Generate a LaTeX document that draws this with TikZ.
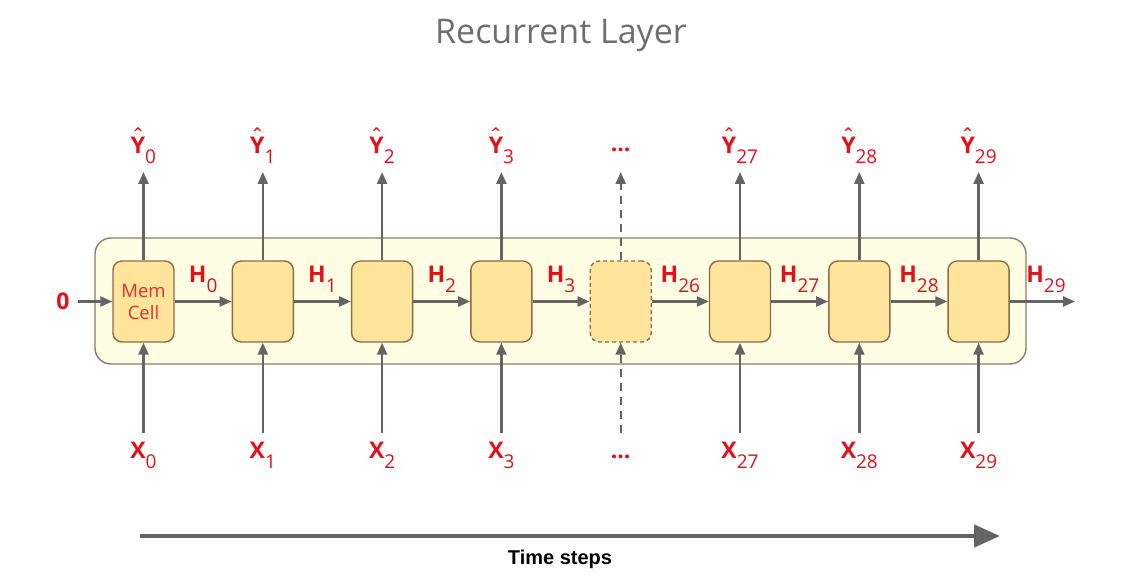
\documentclass[tikz,border=0pt]{standalone}
\usepackage{fontspec}
\setmainfont{Open Sans}
\newfontfamily\timefont{Liberation Sans}
\usetikzlibrary{arrows.meta,calc}
\definecolor{lblred}{HTML}{E3101B}
\definecolor{memred}{HTML}{E2302A}
\definecolor{arrgray}{HTML}{646464}
\definecolor{cellfill}{HTML}{FFE49C}
\definecolor{cellbrd}{HTML}{8C6B48}
\definecolor{layerfill}{HTML}{FFFDE3}
\definecolor{layerbrd}{HTML}{8E7D6C}
\definecolor{titlegray}{HTML}{6E6E6E}
\newcommand{\rlab}[2]{{\bfseries #1}\raisebox{-10pt}{\fontsize{19}{19}\selectfont #2}}
\newcommand{\hatY}{\setbox0\hbox{\bfseries Y}\rlap{\hbox to\wd0{\hss\raisebox{8.5pt}{\mdseries ˆ}\hss}}\box0}
\begin{document}
\begin{tikzpicture}[x=1pt,y=-1pt,
  lab/.style={text=lblred, font=\fontsize{23}{23}\selectfont, anchor=base, inner sep=0pt},
  cellbox/.style={draw=cellbrd, fill=cellfill, line width=1.4pt, rounded corners=9pt,
    minimum width=61pt, minimum height=81pt, inner sep=0pt},
  arr/.style={draw=arrgray, line width=2.4pt, -{Triangle[length=12pt,width=10pt]}},
  dasharr/.style={arr, dash pattern=on 8pt off 6pt},
  timearr/.style={draw=arrgray, line width=4.5pt, -{Triangle[length=26pt,width=22pt]}},
]
\useasboundingbox (0,0) rectangle (1122,577);

% title
\node[text=titlegray, font=\fontsize{34}{34}\selectfont, anchor=base, inner sep=0pt] (title) at (561,44) {Recurrent Layer};

% layer box
\node[draw=layerbrd, fill=layerfill, line width=1.4pt, rounded corners=16pt,
  minimum width=931pt, minimum height=126pt, inner sep=0pt] (layer) at (560.5,301) {};

% cells
\node[cellbox, text=memred, align=center, font=\fontsize{18.5}{22}\selectfont] (c0) at (143.5,301.5) {Mem\\Cell};
\node[cellbox] (c1) at (262.8,301.5) {};
\node[cellbox] (c2) at (382.1,301.5) {};
\node[cellbox] (c3) at (501.4,301.5) {};
\node[cellbox, dashed, dash pattern=on 4pt off 3pt] (c4) at (620.7,301.5) {};
\node[cellbox] (c5) at (740.0,301.5) {};
\node[cellbox] (c6) at (859.3,301.5) {};
\node[cellbox] (c7) at (978.6,301.5) {};

% output and input labels + arrows
\foreach \i/\s in {0/0,1/1,2/2,3/3,5/27,6/28,7/29}{
  \path (c\i) ++(0,-129.5) coordinate (ytip\i);
  \path (c\i) ++(0,131.5) coordinate (xtail\i);
  \node[lab] (y\i) at ([yshift=147.5pt]c\i.center) {\hatY\raisebox{-10pt}{\fontsize{19}{19}\selectfont \s}};
  \node[lab] (x\i) at ([yshift=-156.5pt]c\i.center) {\rlab{X}{\s}};
  \draw[arr] (c\i.north) -- (ytip\i);
  \draw[arr] (xtail\i) -- (c\i.south);
}
\path (c4) ++(0,-129.5) coordinate (ytip4);
\path (c4) ++(0,131.5) coordinate (xtail4);
\node[lab, font=\bfseries\fontsize{23}{23}\selectfont] (y4) at ([yshift=149.5pt]c4.center) {...};
\node[lab, font=\bfseries\fontsize{23}{23}\selectfont] (x4) at ([yshift=-156.5pt]c4.center) {...};
\draw[dasharr] (c4.north) -- (ytip4);
\draw[dasharr] (xtail4) -- (c4.south);

% recurrent connections
\foreach \a/\b/\s in {0/1/0,1/2/1,2/3/2,3/4/3,4/5/26,5/6/27,6/7/28}{
  \draw[arr] (c\a.east) -- (c\b.west);
  \node[lab] (h\s) at ($ (c\a.center)!0.5!(c\b.center) + (0,-18.5) $) {\rlab{H}{\s}};
}

% input 0
\node[lab, font=\bfseries\fontsize{23}{23}\selectfont] (zero) at (63,310) {0};
\draw[arr, shorten <=8pt] (zero.east |- c0.west) -- (c0.west);

% output H29
\coordinate (hout) at (1075,301.5);
\draw[arr] (c7.east) -- (hout);
\node[lab] (h29) at (1046,283) {\rlab{H}{29}};

% time steps
\coordinate (ts) at (140,536);
\coordinate (te) at (1000,536);
\draw[timearr] (ts) -- (te);
\node[font=\timefont\bfseries\fontsize{20}{20}\selectfont, anchor=base, inner sep=0pt] (tlabel) at (560,564) {Time steps};
\end{tikzpicture}
\end{document}
